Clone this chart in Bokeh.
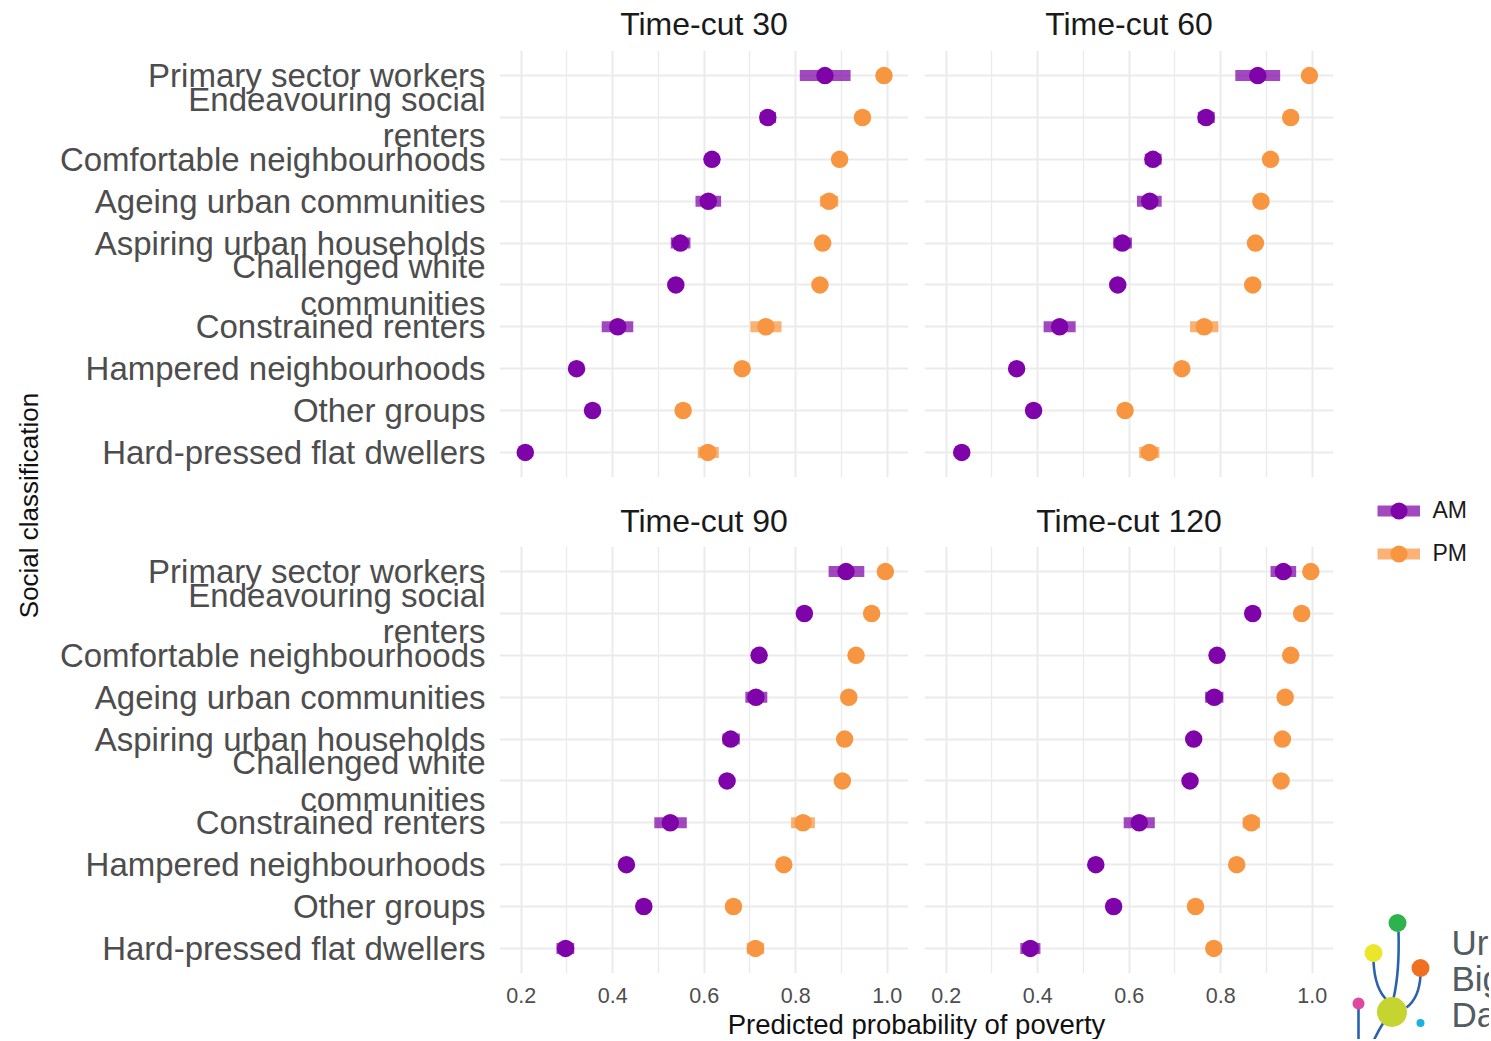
from bokeh.plotting import figure
from bokeh.models import Range1d, FixedTicker, Legend, LegendItem, ColumnDataSource
from bokeh.layouts import row, column
from bokeh.embed import file_html
from bokeh.resources import INLINE
from bokeh.core.properties import value
import math

FONT = "Liberation Sans"

# ---------------- data ----------------
categories = [
    "Primary sector workers", "Endeavouring social renters", "Comfortable neighbourhoods",
    "Ageing urban communities", "Aspiring urban households", "Challenged white communities",
    "Constrained renters", "Hampered neighbourhoods", "Other groups", "Hard-pressed flat dwellers",
]
tick_labels = [
    "Primary sector workers", "Endeavouring social\nrenters", "Comfortable neighbourhoods",
    "Ageing urban communities", "Aspiring urban households", "Challenged white\ncommunities",
    "Constrained renters", "Hampered neighbourhoods", "Other groups", "Hard-pressed flat dwellers",
]
panel_titles = ["Time-cut 30", "Time-cut 60", "Time-cut 90", "Time-cut 120"]
series_names = ["AM", "PM"]
x_ticks = [0.2, 0.4, 0.6, 0.8, 1.0]
x_minor_ticks = [0.3, 0.5, 0.7, 0.9]

am_30 = [0.864, 0.739, 0.617, 0.609, 0.548, 0.538, 0.411, 0.321, 0.356, 0.209]
am_30_lo = [0.809, 0.722, 0.603, 0.581, 0.527, 0.527, 0.376, 0.313, 0.347, 0.202]
am_30_hi = [0.920, 0.757, 0.631, 0.637, 0.570, 0.549, 0.445, 0.329, 0.365, 0.216]
pm_30 = [0.993, 0.946, 0.896, 0.873, 0.859, 0.853, 0.735, 0.683, 0.554, 0.608]
pm_30_lo = [0.989, 0.937, 0.887, 0.853, 0.850, 0.844, 0.701, 0.675, 0.546, 0.586]
pm_30_hi = [0.997, 0.955, 0.905, 0.893, 0.868, 0.862, 0.769, 0.691, 0.562, 0.632]

am_60 = [0.881, 0.768, 0.652, 0.645, 0.585, 0.575, 0.448, 0.354, 0.391, 0.234]
am_60_lo = [0.832, 0.750, 0.634, 0.617, 0.565, 0.565, 0.413, 0.346, 0.383, 0.227]
am_60_hi = [0.930, 0.787, 0.671, 0.671, 0.606, 0.585, 0.483, 0.362, 0.399, 0.241]
pm_60 = [0.994, 0.953, 0.909, 0.888, 0.876, 0.870, 0.764, 0.715, 0.591, 0.644]
pm_60_lo = [0.990, 0.944, 0.900, 0.879, 0.867, 0.861, 0.733, 0.707, 0.583, 0.622]
pm_60_hi = [0.998, 0.962, 0.918, 0.897, 0.885, 0.879, 0.795, 0.723, 0.599, 0.666]

am_90 = [0.910, 0.819, 0.720, 0.713, 0.658, 0.650, 0.526, 0.430, 0.468, 0.297]
am_90_lo = [0.872, 0.805, 0.708, 0.690, 0.640, 0.640, 0.491, 0.422, 0.460, 0.277]
am_90_hi = [0.950, 0.833, 0.732, 0.738, 0.678, 0.660, 0.562, 0.438, 0.476, 0.316]
pm_90 = [0.996, 0.966, 0.932, 0.916, 0.907, 0.902, 0.816, 0.774, 0.664, 0.712]
pm_90_lo = [0.993, 0.958, 0.924, 0.908, 0.899, 0.894, 0.790, 0.766, 0.656, 0.693]
pm_90_hi = [0.999, 0.974, 0.940, 0.924, 0.915, 0.910, 0.842, 0.782, 0.672, 0.731]

am_120 = [0.937, 0.870, 0.792, 0.786, 0.741, 0.733, 0.622, 0.527, 0.566, 0.384]
am_120_lo = [0.909, 0.860, 0.782, 0.766, 0.731, 0.723, 0.588, 0.519, 0.558, 0.362]
am_120_hi = [0.965, 0.880, 0.802, 0.806, 0.751, 0.743, 0.656, 0.535, 0.574, 0.406]
pm_120 = [0.997, 0.977, 0.953, 0.941, 0.935, 0.932, 0.867, 0.835, 0.745, 0.785]
pm_120_lo = [0.995, 0.970, 0.946, 0.934, 0.928, 0.925, 0.848, 0.827, 0.737, 0.777]
pm_120_hi = [0.999, 0.984, 0.960, 0.948, 0.942, 0.939, 0.886, 0.843, 0.753, 0.793]

# ---------------- style / layout ----------------
AM_COLOR = "#7E03A8"
PM_COLOR = "#F89540"
GRID = "#EBEBEB"
N = len(categories)
ypos = [N - i for i in range(N)]  # first category at the top
X0, X1 = 0.1526, 1.0466
TOTAL_H = 1039
TOP_STRIP_H = 40


def panel(title, am, am_lo, am_hi, pm, pm_lo, pm_hi, left, top):
    w = 868 if left else 425
    h = 490 - TOP_STRIP_H if top else 518
    p = figure(width=w, height=h, output_backend="svg", toolbar_location=None,
               title_location=None if top else "above",
               x_range=Range1d(X0, X1), y_range=Range1d(0.4, N + 0.6),
               min_border_left=454 if left else 11, min_border_right=5,
               min_border_top=50 - TOP_STRIP_H if top else 56,
               min_border_bottom=13 if top else 35)
    p.outline_line_color = None
    p.background_fill_color = "white"
    p.border_fill_color = "white"
    if not top:
        p.title.text = title
        p.title.align = "center"
        p.title.text_font = FONT
        p.title.text_font_size = "32px"
        p.title.text_font_style = "normal"
        p.title.text_color = "#1A1A1A"
        p.title.standoff = 16

    xt = FixedTicker(ticks=x_ticks, minor_ticks=x_minor_ticks)
    yt = FixedTicker(ticks=ypos, minor_ticks=[])
    p.xaxis.ticker = xt
    p.yaxis.ticker = yt
    p.xgrid.ticker = xt
    p.ygrid.ticker = yt
    p.xgrid.grid_line_color = GRID
    p.xgrid.grid_line_width = 2
    p.xgrid.minor_grid_line_color = GRID
    p.xgrid.minor_grid_line_width = 1.3
    p.ygrid.grid_line_color = GRID
    p.ygrid.grid_line_width = 2

    for ax in (p.xaxis[0], p.yaxis[0]):
        ax.axis_line_color = None
        ax.major_tick_line_color = None
        ax.minor_tick_line_color = None
        ax.major_tick_out = 0
        ax.major_tick_in = 0
        ax.major_label_text_font = FONT
        ax.major_label_text_color = "#4D4D4D"

    p.xaxis.major_label_text_font_size = "21.5px"
    p.xaxis.major_label_standoff = 10
    p.xaxis.major_label_overrides = {t: f"{t:.1f}" for t in x_ticks}
    p.yaxis.major_label_text_font_size = "33px"
    p.yaxis.major_label_standoff = 14
    p.yaxis.major_label_text_line_height = 0.98
    p.yaxis.major_label_overrides = {y: lab for y, lab in zip(ypos, tick_labels)}

    if top:
        p.xaxis.visible = False
    if not left:
        p.yaxis.visible = False

    for vals, lo, hi, col in ((am, am_lo, am_hi, AM_COLOR), (pm, pm_lo, pm_hi, PM_COLOR)):
        src = ColumnDataSource(dict(x=vals, lo=lo, hi=hi, y=ypos))
        p.segment(x0="lo", x1="hi", y0="y", y1="y", source=src, line_color=col,
                  line_alpha=0.72, line_width=11, line_cap="butt")
        p.scatter(x="x", y="y", source=src, size=17.5, fill_color=col, line_color=col,
                  line_width=0)
    return p


p1 = panel(panel_titles[0], am_30, am_30_lo, am_30_hi, pm_30, pm_30_lo, pm_30_hi, True, True)
p2 = panel(panel_titles[1], am_60, am_60_lo, am_60_hi, pm_60, pm_60_lo, pm_60_hi, False, True)
p3 = panel(panel_titles[2], am_90, am_90_lo, am_90_hi, pm_90, pm_90_lo, pm_90_hi, True, False)
p4 = panel(panel_titles[3], am_120, am_120_lo, am_120_hi, pm_120, pm_120_lo, pm_120_hi, False, False)


def strip(w, h, x0, x1, y0, y1):
    s = figure(width=w, height=h, output_backend="svg", toolbar_location=None,
               title_location=None,
               x_range=Range1d(x0, x1), y_range=Range1d(y1, y0),
               x_axis_type=None, y_axis_type=None,
               min_border=0, min_border_left=0, min_border_right=0,
               min_border_top=0, min_border_bottom=0)
    s.outline_line_color = None
    s.grid.visible = False
    s.background_fill_color = "white"
    s.border_fill_color = "white"
    return s


# facet titles of the top row (page pixel coordinates: centred over each panel frame)
top_strip = strip(1293, TOP_STRIP_H, 45, 1338, 0, TOP_STRIP_H)
top_strip.text(x=[(499 + 908) / 2, (924 + 1333) / 2], y=[23, 23], text=panel_titles[:2],
               text_font=value(FONT), text_font_size=value("32px"), text_color="#1A1A1A",
               text_align="center", text_baseline="middle")

# y axis title strip
left_strip = strip(45, TOTAL_H, 0, 45, 0, TOTAL_H)
left_strip.text(x=[28], y=[505], text=["Social classification"], angle=math.pi / 2,
                text_font=value(FONT), text_font_size=value("26px"), text_color="#111111",
                text_align="center", text_baseline="middle")

# x axis title strip
bottom_strip = strip(1293, TOTAL_H - 1008, 45, 1338, 1008, TOTAL_H)
bottom_strip.text(x=[916], y=[1024], text=["Predicted probability of poverty"],
                  text_font=value(FONT), text_font_size=value("27.5px"), text_color="#111111",
                  text_align="center", text_baseline="middle")

# right column: legend + logo
right = strip(151, TOTAL_H, 1338, 1489, 0, TOTAL_H)
leg_src = ColumnDataSource(dict(x=[-100], y=[-100], x1=[-90]))
items = []
for name, col in zip(series_names, (AM_COLOR, PM_COLOR)):
    seg = right.segment(x0="x", x1="x1", y0="y", y1="y", source=leg_src, line_color=col,
                        line_alpha=0.72, line_width=11, line_cap="butt")
    pt = right.scatter(x="x", y="y", source=leg_src, size=17, fill_color=col,
                       line_color=col, line_width=0)
    items.append(LegendItem(label=name, renderers=[seg, pt]))
# legend top-left at page (1376.5, 488.5); location is bottom-left measured from the bottom
legend = Legend(items=items, location=(1376.5 - 1338, TOTAL_H - 488.5 - 86),
                glyph_width=43, glyph_height=43,
                spacing=0, padding=0, margin=0, label_standoff=13, label_height=43,
                label_text_font=FONT, label_text_font_size="23px", label_text_color="#1A1A1A",
                border_line_color=None, background_fill_alpha=0)
right.add_layout(legend)

# logo (decoration, page pixel coordinates)
logo_stem_x0 = [1398, 1373, 1420, 1358, 1383]
logo_stem_y0 = [931, 961, 975, 1008, 1022]
logo_stem_x1 = [1393, 1387, 1406, 1358, 1371]
logo_stem_y1 = [998, 1000, 1007, 1045, 1045]
logo_stem_cx0 = [1399, 1374, 1419, 1358, 1378]
logo_stem_cy0 = [965, 982, 992, 1025, 1030]
logo_stem_cx1 = [1396, 1379, 1414, 1358, 1374]
logo_stem_cy1 = [985, 993, 1001, 1035, 1038]
right.bezier(x0=logo_stem_x0, y0=logo_stem_y0, x1=logo_stem_x1, y1=logo_stem_y1,
             cx0=logo_stem_cx0, cy0=logo_stem_cy0, cx1=logo_stem_cx1, cy1=logo_stem_cy1,
             line_color="#2A62AE", line_width=2.6)
logo_dot_x = [1397, 1373, 1420, 1358, 1391.5, 1420]
logo_dot_y = [922.5, 952.5, 967.5, 1003, 1011.5, 1022.5]
logo_dot_d = [18, 18, 18, 12, 30, 8]
logo_dot_c = ["#2EB24B", "#ECE62B", "#F07022", "#E0479E", "#C5D42F", "#1AB2E3"]
right.scatter(x=logo_dot_x, y=logo_dot_y, size=logo_dot_d, fill_color=logo_dot_c,
              line_color=None)
logo_words = ["Urban", "Big", "Data", "Centre"]
logo_word_y = [942, 978, 1014, 1050]
right.text(x=[1451] * 4, y=logo_word_y, text=logo_words, text_font=value(FONT),
           text_font_size=value("35px"), text_color="#525C61", text_align="left",
           text_baseline="middle")

layout = row(left_strip,
             column(top_strip, row(p1, p2), row(p3, p4), bottom_strip),
             right)

open("out.html", "w").write(file_html(layout, INLINE))
